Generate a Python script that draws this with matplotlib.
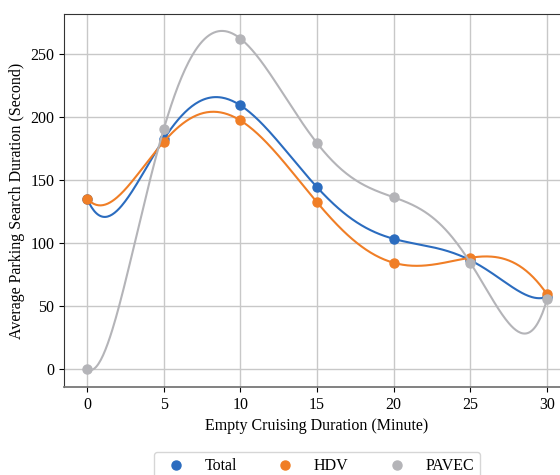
#!/usr/bin/env python3
"""Average parking search duration vs empty cruising duration."""

import numpy as np
import matplotlib

matplotlib.use('Agg')
import matplotlib.pyplot as plt

minutes = [0, 5, 10, 15, 20, 25, 30]
total = [135, 182, 209, 144, 103, 86, 57]
hdv = [135, 180, 197, 132, 84, 88, 59]
pavec = [0, 190, 262, 179, 136, 84, 55]

COLORS = {'Total': '#2b6cbf', 'HDV': '#f07e26', 'PAVEC': '#b4b4b8'}


def smooth(x, y, xs):
    # interpolating polynomial through all the points
    coef = np.polyfit(x, y, len(x) - 1)
    return np.polyval(coef, xs)


def main() -> None:
    plt.rcParams['font.family'] = ['Liberation Serif', 'DejaVu Serif']
    plt.rcParams['font.size'] = 11.5

    fig = plt.figure(figsize=(5.6, 4.75), dpi=100)
    ax = fig.add_axes([0.1143, 0.1853, 0.9036, 0.7853])

    xs = np.linspace(minutes[0], minutes[-1], 400)
    for name, vals in [('Total', total), ('HDV', hdv), ('PAVEC', pavec)]:
        c = COLORS[name]
        ax.plot(xs, smooth(minutes, vals, xs), color=c, lw=1.5)
        ax.plot(minutes, vals, 'o', color=c, ms=6.5, label=name)

    ax.set_xticks(minutes)
    ax.set_yticks([0, 50, 100, 150, 200, 250])
    ax.grid(True, color='#c8c8c8', lw=1)
    ax.set_axisbelow(True)
    for s in ax.spines.values():
        s.set_color('#333333')
    ax.spines['bottom'].set_color('#777777')
    ax.spines['bottom'].set_linewidth(1.3)
    ax.set_xlabel('Empty Cruising Duration (Minute)')
    ax.set_ylabel('Average Parking Search Duration (Second)')
    ax.legend(loc='upper center', bbox_to_anchor=(0.5, -0.153), ncol=3)

    fig.savefig('out.png', dpi=100)


if __name__ == '__main__':
    main()
